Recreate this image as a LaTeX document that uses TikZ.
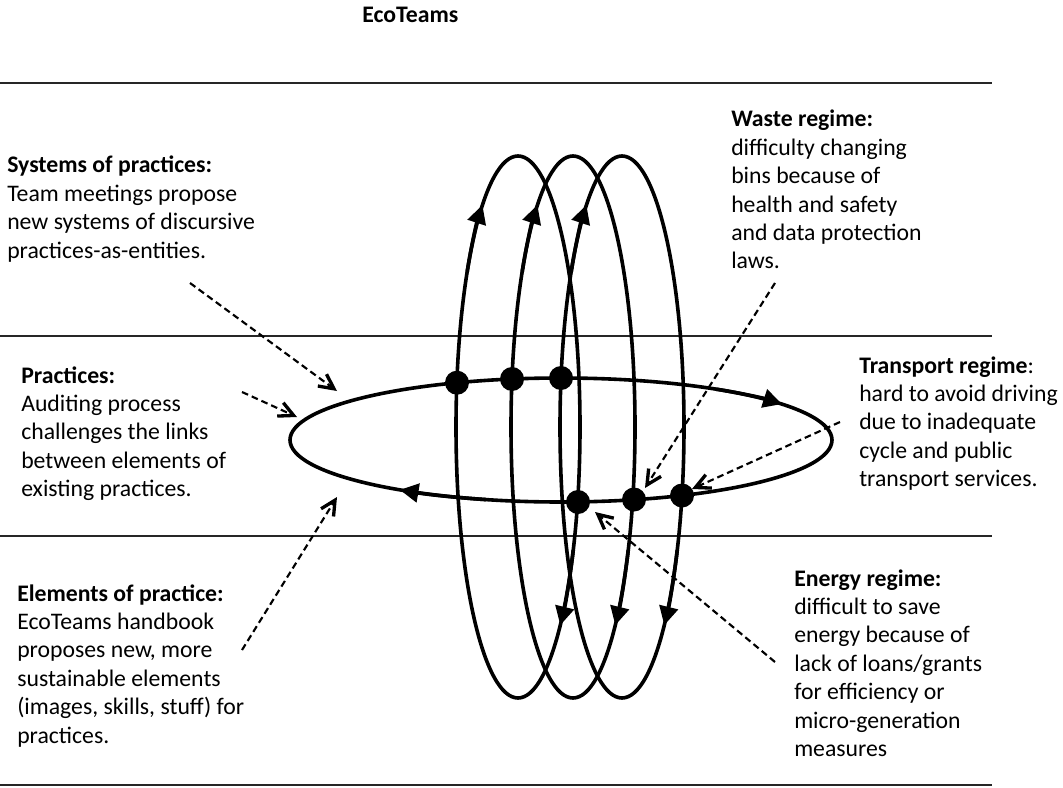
\documentclass[tikz,border=0pt]{standalone}
\usepackage{fontspec}
\setmainfont{Carlito}
\usetikzlibrary{arrows.meta}
\begin{document}
\begin{tikzpicture}[x=0.75pt,y=-0.75pt,
  rule/.style={line width=1.1pt, black!85},
  loopline/.style={line width=2.7pt},
  looparrow/.style={line width=2.7pt, -{Triangle[length=14pt,width=14pt]}},
  dot/.style={circle, fill=black, minimum size=18pt, inner sep=0pt},
  txt/.style={anchor=base west, inner sep=0pt, text width=280pt, align=flush left, font=\fontsize{17.8pt}{21.3pt}\selectfont},
  pointer/.style={line width=1.6pt, dash pattern=on 5pt off 3pt, -{Straight Barb[length=11pt,width=11pt,line width=2.5pt]}}
]
\useasboundingbox (0,0) rectangle (1063,788);

% title
\node[txt] (title) at (362,23) {\textbf{EcoTeams}};

% rules
\draw[rule] (0,83) -- (992,83);
\draw[rule] (0,336) -- (992,336);
\draw[rule] (0,536) -- (992,536);
\draw[rule] (0,785) -- (992,785);

% horizontal loop
\draw[loopline] (561,440) ellipse [x radius=271, y radius=62];
\draw[looparrow] (561,440) ++(-55:271 and 62) arc[start angle=-55, end angle=-35.4, x radius=271, y radius=62];
\draw[looparrow] (561,440) ++(106:271 and 62) arc[start angle=106, end angle=126.5, x radius=271, y radius=62];

% vertical loops
\foreach \cx in {518,573,622}{
  \draw[loopline] (\cx,427) ellipse [x radius=62, y radius=271];
  \draw[looparrow] (\cx,427) ++(215:62 and 271) arc[start angle=215, end angle=235, x radius=62, y radius=271];
  \draw[looparrow] (\cx,427) ++(27:62 and 271) arc[start angle=27, end angle=47, x radius=62, y radius=271];
}

% junction dots
\node[dot] (t1) at (457,382.7) {};
\node[dot] (t2) at (512,379) {};
\node[dot] (t3) at (561,378) {};
\node[dot] (b1) at (578,502) {};
\node[dot] (b2) at (634,499.5) {};
\node[dot] (b3) at (682,495.5) {};

% texts
\node[txt] (sys) at (7,173) {\textbf{Systems of practices:}\\Team meetings propose\\new systems of discursive\\practices-as-entities.};
\node[txt] (prac) at (21,383) {\textbf{Practices:}\\Auditing process\\challenges the links\\between elements of\\existing practices.};
\node[txt] (elem) at (17,601) {\textbf{Elements of practice:}\\EcoTeams handbook\\proposes new, more\\sustainable elements\\(images, skills, stuff) for\\practices.};
\node[txt] (waste) at (731,127) {\textbf{Waste regime:}\\difficulty changing\\bins because of\\health and safety\\and data protection\\laws.};
\node[txt] (trans) at (859,373) {\textbf{Transport regime}:\\hard to avoid driving\\due to inadequate\\cycle and public\\transport services.};
\node[txt] (energy) at (794,586) {\textbf{Energy regime:}\\difficult to save\\energy because of\\lack of loans/grants\\for efficiency or\\micro-generation\\measures};

% pointer coordinates
\coordinate (s1) at (190,283); \coordinate (e1) at (337,391);
\coordinate (s2) at (242,392); \coordinate (e2) at (297,417);
\coordinate (s3) at (242,650); \coordinate (e3) at (337,497);
\coordinate (s4) at (775,283); \coordinate (e4) at (645,488);
\coordinate (s5) at (840,422); \coordinate (e5) at (692,489);
\coordinate (s6) at (775,662); \coordinate (e6) at (595,512);

\draw[pointer] (s1) -- (e1);
\draw[pointer] (s2) -- (e2);
\draw[pointer] (s3) -- (e3);
\draw[pointer] (s4) -- (e4);
\draw[pointer] (s5) -- (e5);
\draw[pointer] (s6) -- (e6);
\end{tikzpicture}
\end{document}
